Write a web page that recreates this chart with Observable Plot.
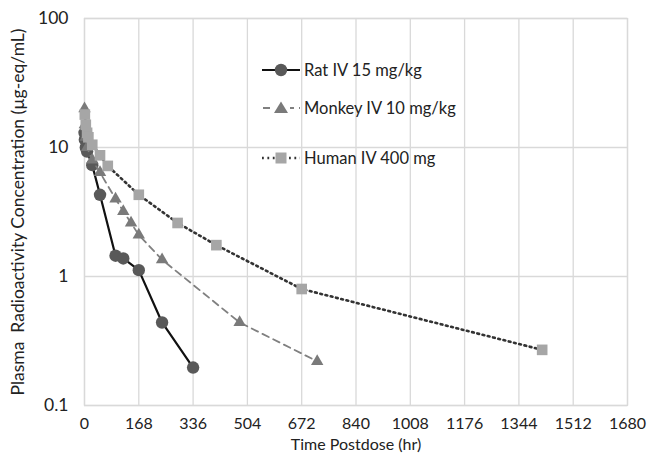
<!DOCTYPE html>
<html>
<head>
<meta charset="utf-8">
<script src="https://cdn.jsdelivr.net/npm/d3@7"></script>
<script src="https://cdn.jsdelivr.net/npm/@observablehq/plot@0.6"></script>
<style>
  html, body { margin: 0; padding: 0; background: #fff; }
  #wrap { position: relative; width: 648px; height: 465px; font-family: Lato, "Noto Sans", sans-serif; }
  #legend { position: absolute; left: 260px; top: 56px; font-size: 16.5px; color: #222; }
  .item { display: flex; align-items: center; height: 20px; position: absolute; white-space: nowrap; }
  .item svg { margin-right: 2px; }
</style>
</head>
<body>
<div id="wrap"></div>
<script>
// Time postdose (hr) and concentration (µg-eq/mL)
const ratTime   = [0.083, 1, 4, 8, 24, 48, 96, 120, 168, 240, 336];
const ratConc   = [13, 11.5, 10, 9.3, 7.3, 4.3, 1.45, 1.38, 1.12, 0.44, 0.197];
const monkeyTime = [0.083, 1, 4, 8, 24, 48, 96, 120, 144, 168, 240, 480, 720];
const monkeyConc = [20, 15, 12, 10, 8, 6.4, 4.0, 3.2, 2.6, 2.1, 1.35, 0.44, 0.22];
const humanTime = [1, 4, 8, 12, 24, 48, 72, 168, 288, 408, 672, 1416];
const humanConc = [18, 15, 13, 12, 10.5, 8.7, 7.2, 4.3, 2.6, 1.75, 0.8, 0.27];
const seriesNames = ["Rat IV 15 mg/kg", "Monkey IV 10 mg/kg", "Human IV 400 mg"];
const xTicks = [0, 168, 336, 504, 672, 840, 1008, 1176, 1344, 1512, 1680];
const yTicks = [0.1, 1, 10, 100];

const rat = ratTime.map((t, i) => ({t, c: ratConc[i]}));
const monkey = monkeyTime.map((t, i) => ({t, c: monkeyConc[i]}));
const human = humanTime.map((t, i) => ({t, c: humanConc[i]}));

const grid = "#d9d9d9";
const fs = "16px";
const chart = Plot.plot({
  width: 648,
  height: 465,
  marginLeft: 84,
  marginRight: 21,
  marginTop: 18,
  marginBottom: 60,
  style: {fontFamily: "Lato, 'Noto Sans', sans-serif", fontSize: fs, color: "#222", background: "#fff"},
  x: {domain: [0, 1680]},
  y: {type: "log", domain: [0.1, 100]},
  marks: [
    Plot.gridX(xTicks, {stroke: grid, strokeOpacity: 1, strokeWidth: 1.3}),
    Plot.gridY(yTicks, {stroke: grid, strokeOpacity: 1, strokeWidth: 1.3}),
    Plot.frame({stroke: grid, strokeWidth: 1.3}),
    Plot.axisX({ticks: xTicks, tickSize: 0, tickPadding: 12, tickFormat: d => String(d),
      label: "Time Postdose (hr)", labelAnchor: "center", labelOffset: 44, labelArrow: "none", fontSize: fs}),
    Plot.axisY({ticks: yTicks, tickSize: 0, tickPadding: 16, tickFormat: d => String(d),
      label: "Plasma  Radioactivity Concentration (µg-eq/mL)", labelAnchor: "center", labelOffset: 73, labelArrow: "none", fontSize: "17.5px"}),
    Plot.line(rat, {x: "t", y: "c", stroke: "#111", strokeWidth: 2.2}),
    Plot.dot(rat, {x: "t", y: "c", r: 6.2, fill: "#595959", stroke: "none"}),
    Plot.line(monkey, {x: "t", y: "c", stroke: "#808080", strokeWidth: 1.8, strokeDasharray: "7,5"}),
    Plot.dot(monkey, {x: "t", y: "c", symbol: "triangle", r: 4.6, fill: "#7a7a7a", stroke: "none"}),
    Plot.line(human, {x: "t", y: "c", stroke: "#333", strokeWidth: 2.6, strokeDasharray: "1.8,3.6"}),
    Plot.dot(human, {x: "t", y: "c", symbol: "square", r: 6, fill: "#a6a6a6", stroke: "none"})
  ]
});
const wrap = document.getElementById("wrap");
wrap.appendChild(chart);

// Legend
const legend = document.createElement("div");
legend.id = "legend";
const samples = [
  `<line x1="2" y1="10" x2="40" y2="10" stroke="#111" stroke-width="2.2"/><circle cx="21" cy="10" r="6.2" fill="#595959"/>`,
  `<line x1="2" y1="10" x2="40" y2="10" stroke="#808080" stroke-width="1.8" stroke-dasharray="7,5" stroke-dashoffset="-1"/><rect x="12" y="0" width="18" height="20" fill="#fff"/><path d="M21,3.5 L28,15 L14,15 Z" fill="#7a7a7a"/>`,
  `<line x1="2" y1="10" x2="40" y2="10" stroke="#333" stroke-width="2.6" stroke-dasharray="1.8,3.6"/><rect x="15.5" y="4.5" width="11" height="11" fill="#a6a6a6"/>`
];
const tops = [4, 42, 92];
seriesNames.forEach((name, i) => {
  const it = document.createElement("div");
  it.className = "item";
  it.style.top = tops[i] + "px";
  it.innerHTML = `<svg width="42" height="20">${samples[i]}</svg><span>${name}</span>`;
  legend.appendChild(it);
});
wrap.appendChild(legend);
</script>
</body>
</html>
